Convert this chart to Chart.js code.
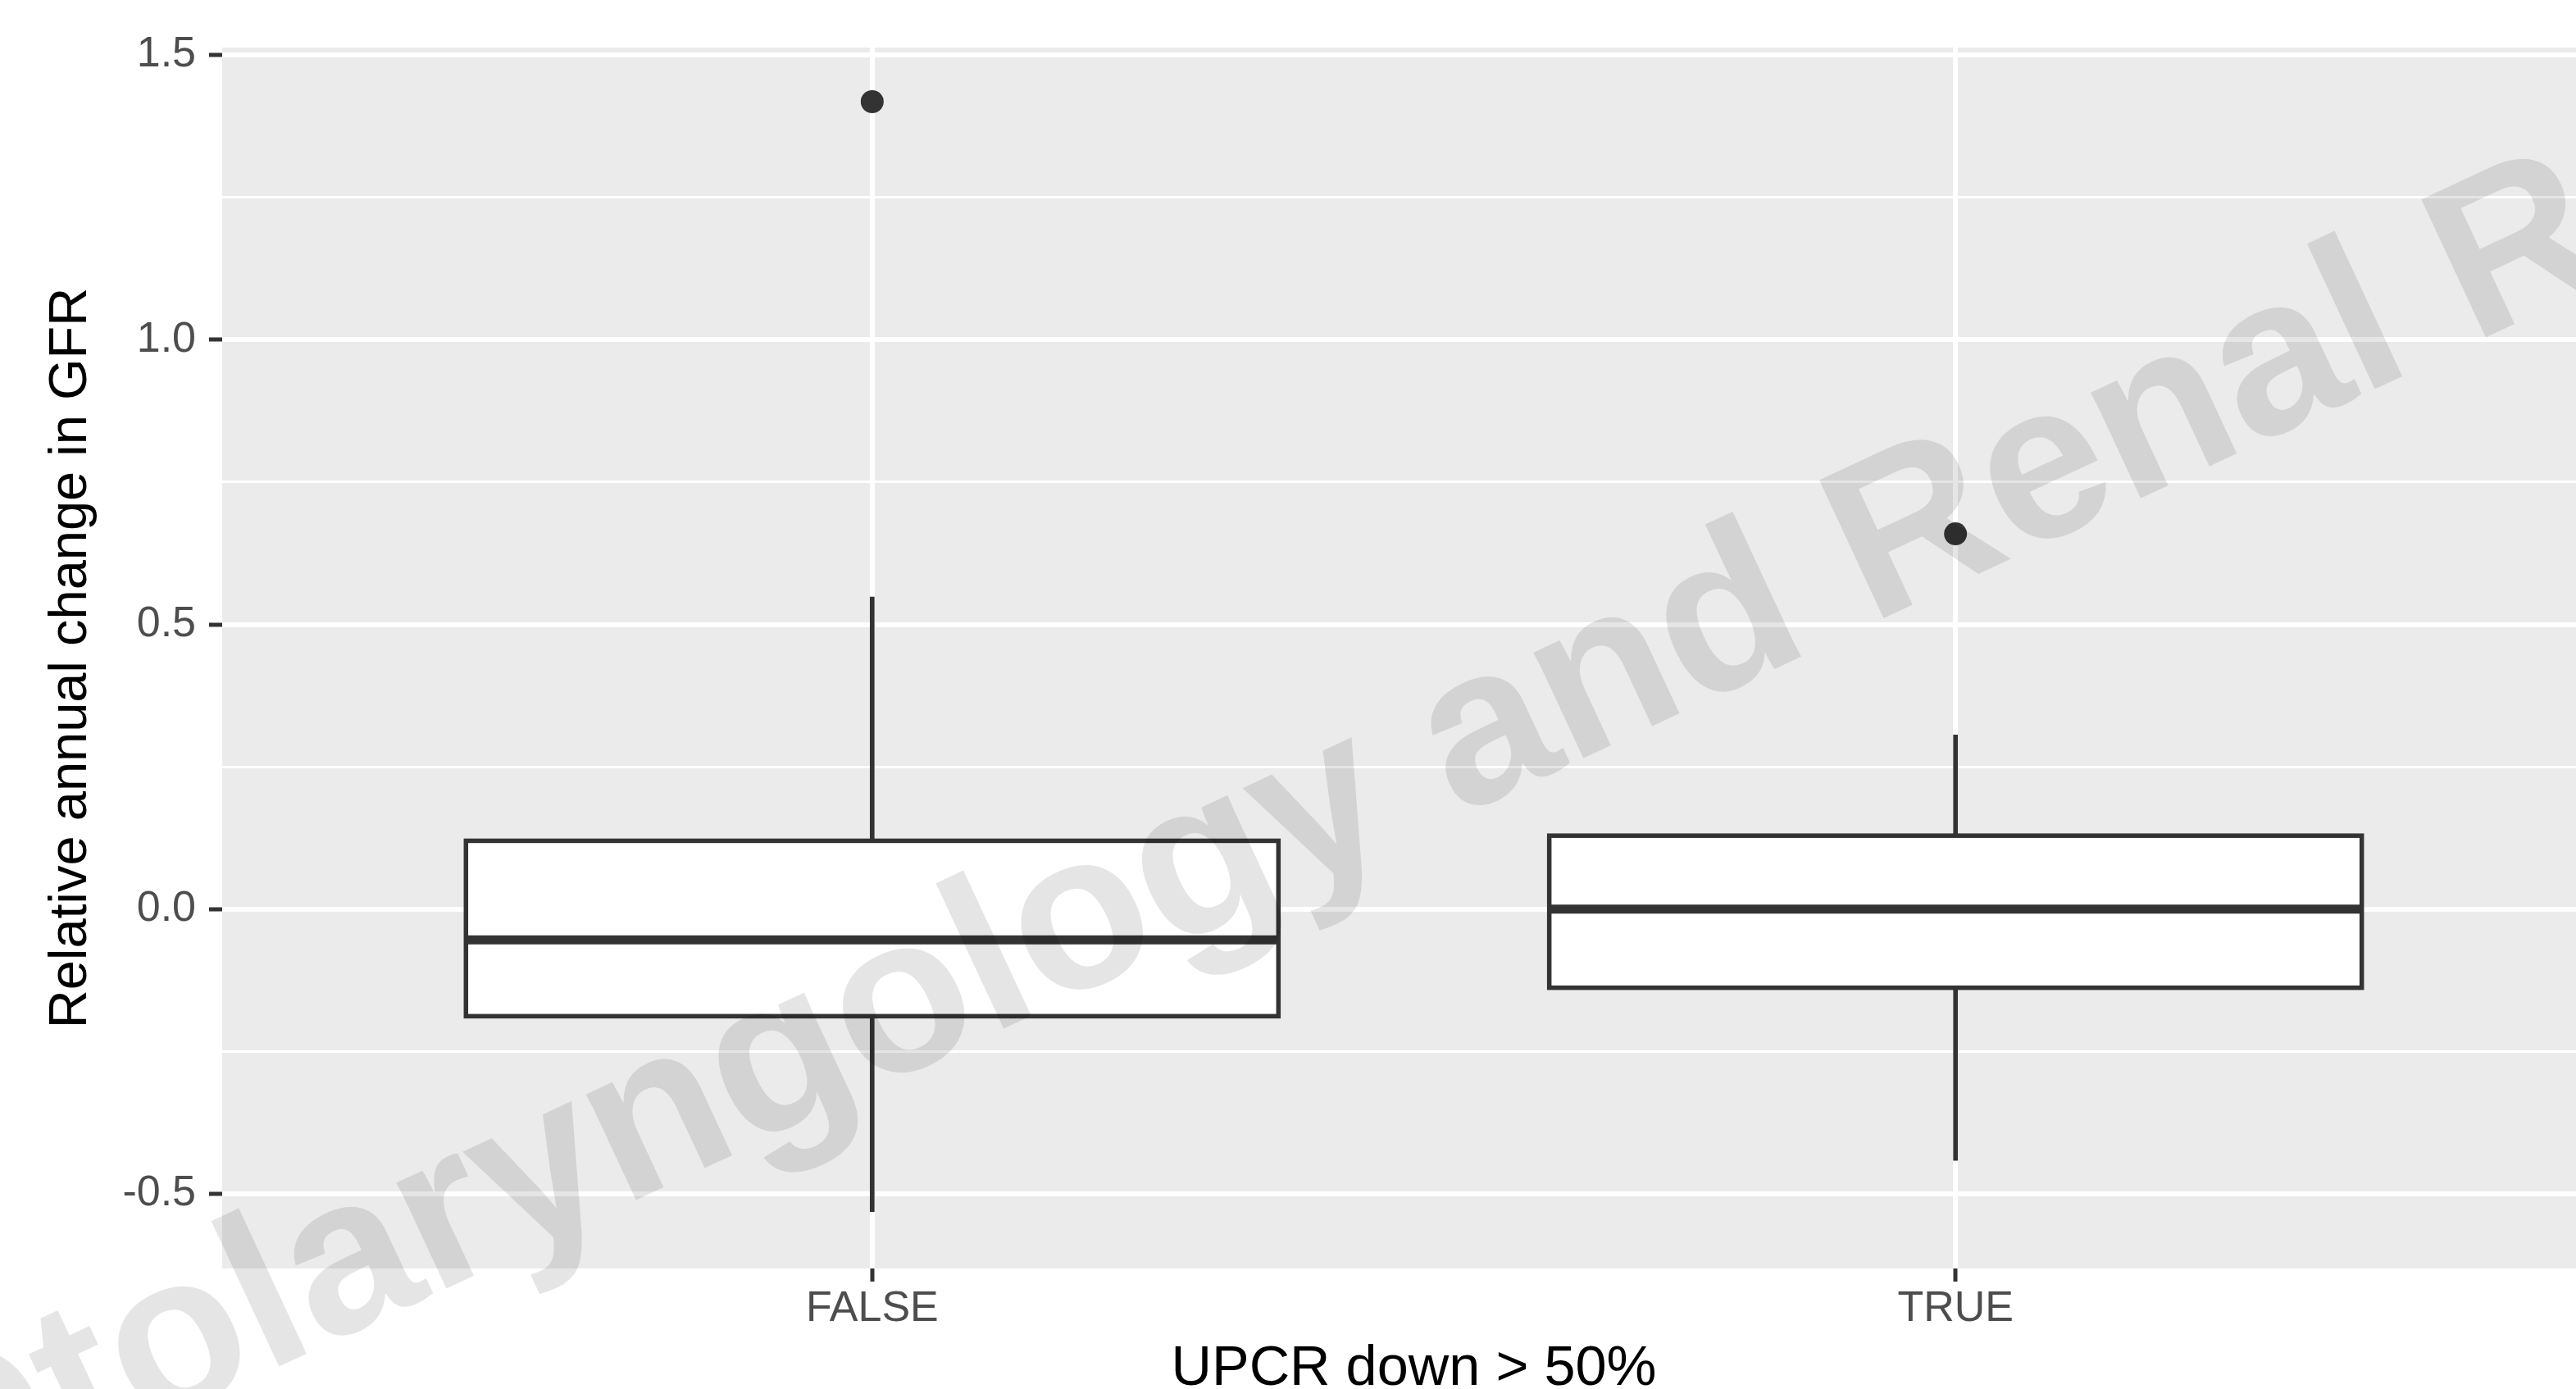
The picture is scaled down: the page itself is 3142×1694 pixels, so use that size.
<!DOCTYPE html>
<html>
<head>
<meta charset="utf-8">
<title>Relative annual change in GFR</title>
<script src="https://cdn.jsdelivr.net/npm/chart.js@4.4.1/dist/chart.umd.min.js"></script>
<style>
  html, body { margin: 0; padding: 0; background: #ffffff; overflow: hidden; }
  canvas { display: block; }
</style>
</head>
<body>
<!-- wider than the window: the grey panel runs past the right edge, as in the original -->
<canvas id="boxChart" width="3192" height="1694"></canvas>
<script>
// groups on the x axis
const categories = ['FALSE', 'TRUE'];

// box plot summaries, one value per group
const lowerWhisker = [-0.531, -0.441];
const q1 = [-0.188, -0.138];
const median = [-0.054, 0.0];
const q3 = [0.120, 0.129];
const upperWhisker = [0.548, 0.306];
const outliers = [[1.418], [0.659]];

// y axis
const yMajorTicks = [-0.5, 0, 0.5, 1, 1.5];
const yMinorTicks = [-0.25, 0.25, 0.75, 1.25];
const yTickLabels = ['-0.5', '0.0', '0.5', '1.0', '1.5'];

const FONT = '"Liberation Sans", Arial, Helvetica, sans-serif';
const isMajor = v => yMajorTicks.some(t => Math.abs(t - v) < 1e-9);

// grey panel behind the plot
const panelBackground = {
    id: 'panelBackground',
    beforeDraw(chart) {
        const { ctx, chartArea: a } = chart;
        ctx.save();
        ctx.fillStyle = '#ffffff';
        ctx.fillRect(0, 0, chart.width, chart.height);
        ctx.fillStyle = '#EBEBEB';
        ctx.fillRect(a.left, a.top, a.right - a.left, a.bottom - a.top);
        ctx.restore();
    }
};

// box outline (centred on the box edges) and thick median line
const boxLines = {
    id: 'boxLines',
    afterDatasetsDraw(chart) {
        const { ctx } = chart;
        const yScale = chart.scales.y;
        const boxes = chart.getDatasetMeta(1).data;
        ctx.save();
        ctx.strokeStyle = '#333333';
        ctx.lineCap = 'butt';
        ctx.lineJoin = 'miter';
        boxes.forEach((el, i) => {
            const left = el.x - el.width / 2;
            const top = Math.min(el.y, el.base);
            const h = Math.abs(el.base - el.y);
            ctx.lineWidth = 5.5;
            ctx.strokeRect(left, top, el.width, h);
            const y = yScale.getPixelForValue(median[i]);
            ctx.lineWidth = 11;
            ctx.beginPath();
            ctx.moveTo(left, y);
            ctx.lineTo(left + el.width, y);
            ctx.stroke();
        });
        ctx.restore();
    }
};

// faint diagonal watermark over everything
const watermark = {
    id: 'watermark',
    afterDraw(chart) {
        const { ctx } = chart;
        ctx.save();
        ctx.translate(-98, 1871);
        ctx.rotate(-25 * Math.PI / 180);
        ctx.font = 'bold 270px ' + FONT;
        ctx.fillStyle = 'rgba(0, 0, 0, 0.1)';
        ctx.textAlign = 'left';
        ctx.textBaseline = 'alphabetic';
        ctx.fillText('Otolaryngology and Renal Research', 0, 0);
        ctx.restore();
    }
};

const whiskerData = categories.map((c, i) => ({ x: i + 1, y: [lowerWhisker[i], upperWhisker[i]] }));
const boxData = categories.map((c, i) => ({ x: i + 1, y: [q1[i], q3[i]] }));
const outlierData = [];
outliers.forEach((list, i) => list.forEach(v => outlierData.push({ x: i + 1, y: v })));

const ctx = document.getElementById('boxChart').getContext('2d');

const boxChart = new Chart(ctx, {
    type: 'bar',
    data: {
        datasets: [
            {
                type: 'bar',
                label: 'whiskers',
                data: whiskerData,
                barThickness: 5,
                backgroundColor: '#333333',
                borderWidth: 0,
                grouped: false,
                order: 3
            },
            {
                type: 'bar',
                label: 'boxes',
                data: boxData,
                backgroundColor: '#ffffff',
                borderWidth: 0,
                categoryPercentage: 0.75,
                barPercentage: 1,
                grouped: false,
                order: 2
            },
            {
                type: 'scatter',
                label: 'outliers',
                data: outlierData,
                pointRadius: 14,
                pointBackgroundColor: '#333333',
                pointBorderWidth: 0,
                order: 1
            }
        ]
    },
    options: {
        responsive: false,
        animation: false,
        devicePixelRatio: 1,
        layout: {
            padding: { top: 58, right: 0, bottom: 0, left: 0 }
        },
        plugins: {
            legend: { display: false },
            tooltip: { enabled: false }
        },
        scales: {
            x: {
                type: 'linear',
                min: 0.4,
                max: 2.6,
                offset: false,
                afterBuildTicks: scale => {
                    scale.ticks = categories.map((c, i) => ({ value: i + 1 }));
                },
                afterFit: scale => {
                    scale.height = 147;
                },
                ticks: {
                    callback: v => categories[Math.round(v) - 1],
                    color: '#4D4D4D',
                    font: { family: FONT, size: 52 },
                    padding: 2,
                    maxRotation: 0,
                    autoSkip: false
                },
                grid: {
                    offset: false,
                    color: '#ffffff',
                    lineWidth: 6,
                    tickColor: '#333333',
                    tickWidth: 5,
                    tickLength: 16
                },
                border: { display: false },
                title: {
                    display: true,
                    text: 'UPCR down > 50%',
                    color: '#000000',
                    font: { family: FONT, size: 68.5, lineHeight: 0.7 },
                    padding: 0
                }
            },
            y: {
                type: 'linear',
                min: -0.631,
                max: 1.513,
                afterBuildTicks: scale => {
                    scale.ticks = yMajorTicks.concat(yMinorTicks)
                        .sort((a, b) => a - b)
                        .map(v => ({ value: v }));
                },
                afterFit: scale => {
                    scale.width = 271;
                },
                ticks: {
                    callback: v => {
                        const i = yMajorTicks.findIndex(t => Math.abs(t - v) < 1e-9);
                        return i >= 0 ? yTickLabels[i] : '';
                    },
                    color: '#4D4D4D',
                    font: { family: FONT, size: 52 },
                    padding: 16,
                    autoSkip: false
                },
                grid: {
                    color: '#ffffff',
                    lineWidth: c => isMajor(c.tick.value) ? 6 : 3,
                    tickColor: c => isMajor(c.tick.value) ? '#333333' : 'rgba(0,0,0,0)',
                    tickWidth: 5,
                    tickLength: 16
                },
                border: { display: false },
                title: {
                    display: true,
                    text: 'Relative annual change in GFR',
                    color: '#000000',
                    font: { family: FONT, size: 65 },
                    padding: { top: 48, bottom: 0 }
                }
            }
        }
    },
    plugins: [panelBackground, boxLines, watermark]
});
</script>
</body>
</html>
